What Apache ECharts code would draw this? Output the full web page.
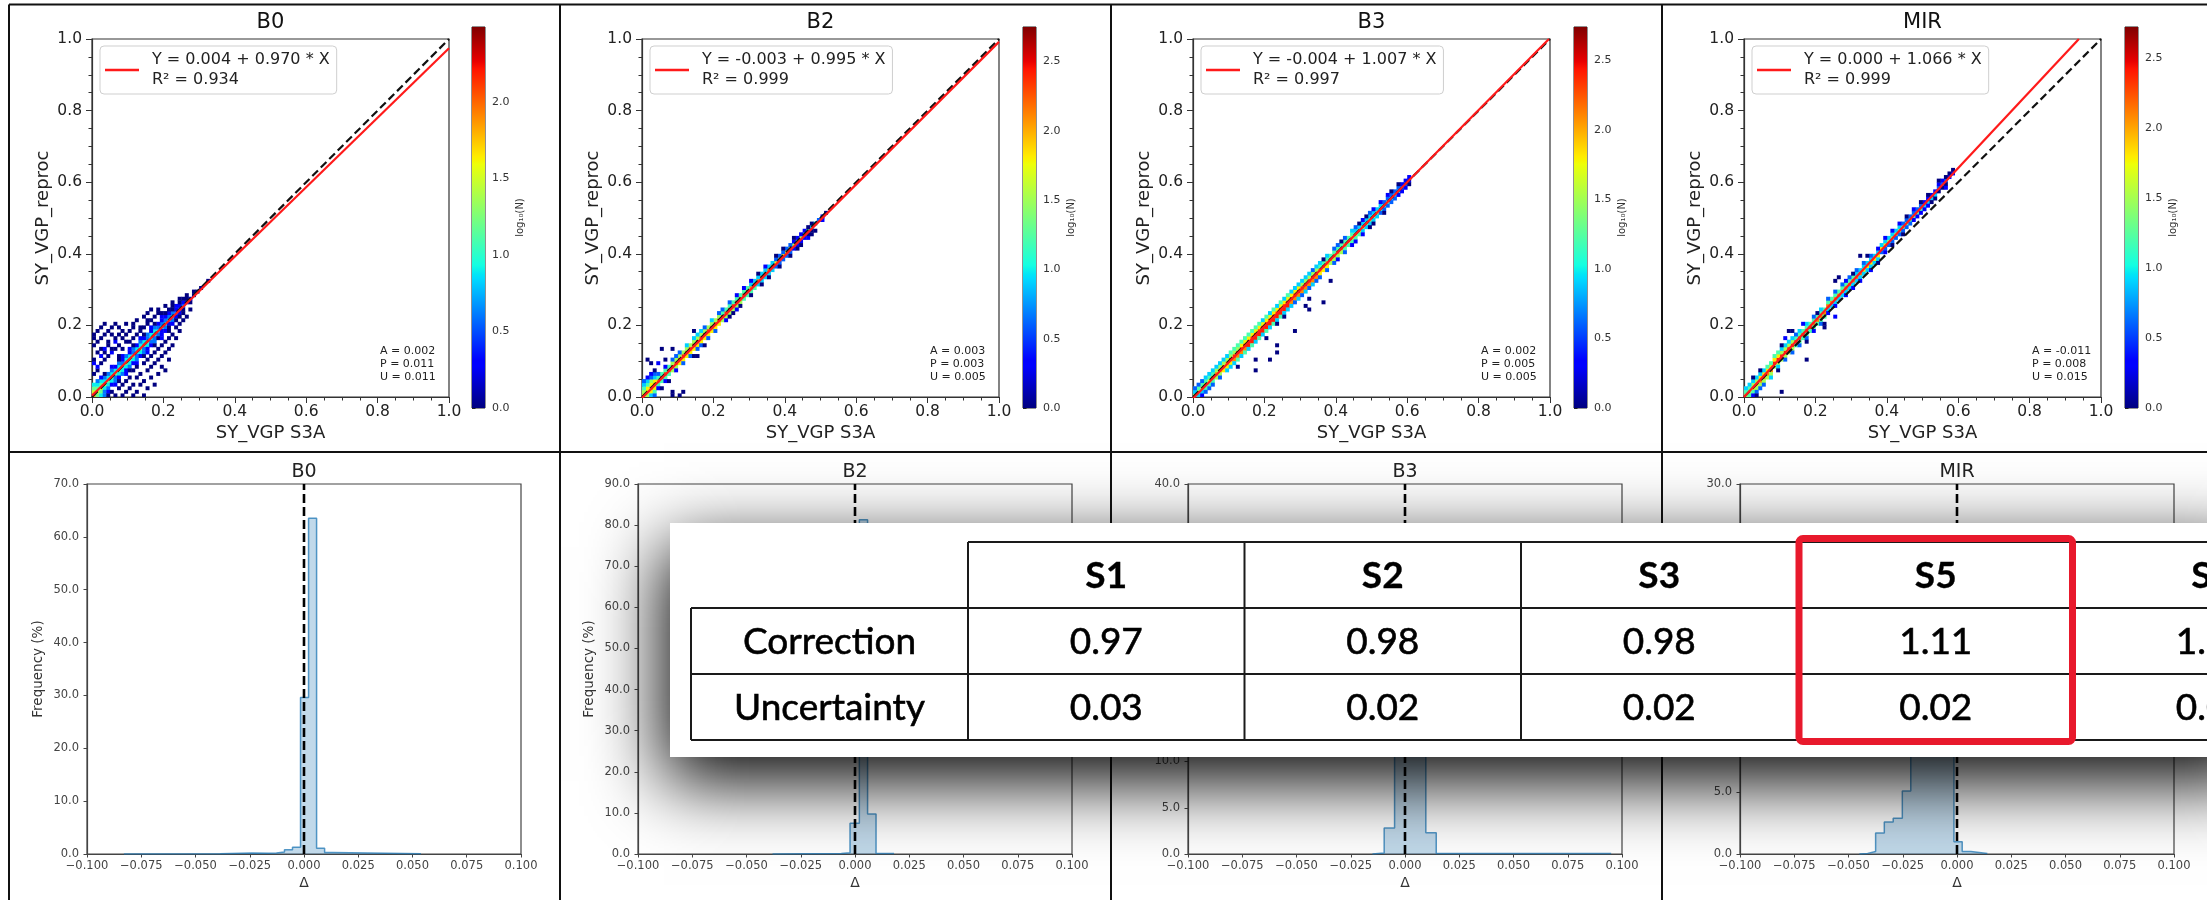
<!DOCTYPE html>
<html>
<head>
<meta charset="utf-8">
<title>SY_VGP reprocessing vs S3A</title>
<script src="https://cdn.jsdelivr.net/npm/echarts@6/dist/echarts.min.js"></script>
<style>
  html, body { margin: 0; padding: 0; background: #ffffff; }
  #chart { width: 2207px; height: 900px; }
</style>
</head>
<body>
<div id="chart"></div>
<script>
// ---------------- data ----------------
const bandNames = ['B0', 'B2', 'B3', 'MIR'];
const fitIntercept = [0.004, -0.003, -0.004, 0.000];
const fitSlope = [0.970, 0.995, 1.007, 1.066];
const fitR2 = [0.934, 0.999, 0.997, 0.999];
const statA = [0.002, 0.003, 0.002, -0.011];
const statP = [0.011, 0.003, 0.005, 0.008];
const statU = [0.011, 0.005, 0.005, 0.015];
const colorMax = [2.49, 2.75, 2.74, 2.72];
const colorTicks = [0, 0.5, 1.0, 1.5, 2.0, 2.5];

// 2-D density cells, 0.01 wide bins. Each band row: [offset from diagonal bin, level codes per x bin]
// level digit d -> log10(N) = 0.3 * d, '.' = empty bin
const b0DiagY = [0,1,2,3,4,5,6,7,8,9,10,11,12,13,14,15,16,17,18,19,20,21,22,23,24,25,26,27,28,29,30,31,32];
const b0Band = [
  [0,  '65554' + '44434' + '44344' + '43433' + '33322' + '21100' + '0.0'],
  [1,  '54433' + '33323' + '32333' + '23322' + '22211' + '10.0.'],
  [-1, '.4433' + '32333' + '33232' + '32221' + '21211' + '0.0'],
  [2,  '43322' + '21212' + '12121' + '21211' + '11010' + '0..'],
  [-2, '..322' + '12121' + '21212' + '11201' + '10100' + '0'],
  [3,  '3210.' + '1.01.' + '10.10' + '.10.1' + '0.0.0'],
  [-3, '...21' + '.10.1' + '0.1.0' + '1.0.1' + '.0.']
];
const b0Extra = [
  [0,6,0],[0,9,1],[0,10,0],[0,14,0],[0,16,0],[0,17,0],
  [1,7,0],[1,8,1],[1,12,0],[1,15,0],[1,18,0],
  [2,9,0],[2,11,1],[2,13,0],[2,16,0],[2,19,0],
  [3,10,0],[3,12,0],[3,13,1],[3,17,0],[3,20,0],
  [4,0,0],[4,11,0],[4,14,0],[4,15,0],[4,18,0],
  [5,1,0],[5,12,1],[5,13,0],[5,17,0],[5,19,0],
  [6,0,0],[6,13,0],[6,15,1],[6,16,0],[6,20,0],
  [7,2,0],[7,11,0],[7,14,0],[7,17,0],[7,19,0],
  [8,0,0],[8,3,0],[8,13,0],[8,16,0],[8,18,0],
  [9,1,0],[9,4,0],[9,15,0],[9,17,0],[9,20,0],
  [10,2,0],[10,5,0],[10,15,0],[10,18,0],
  [11,0,0],[11,3,0],[11,7,0],[11,16,0],[11,19,0],[11,20,0],
  [12,1,0],[12,5,0],[12,8,0],[12,17,0],[12,21,0],
  [13,3,0],[13,6,0],[13,18,0],[13,19,0],
  [14,0,0],[14,4,0],[14,9,0],[14,19,0],[14,22,0],
  [15,2,0],[15,7,0],[15,10,0],[15,20,0],[15,21,0],[15,23,0],
  [16,5,0],[16,8,0],[16,11,0],[16,21,0],[16,24,0],
  [17,3,0],[17,9,0],[17,12,0],[17,22,0],
  [18,6,0],[18,10,0],[18,13,0],[18,23,0],[18,24,0],
  [19,8,0],[19,11,0],[19,14,0],[19,23,0],
  [20,7,0],[20,12,0],[20,15,0],[20,25,0],
  [21,10,0],[21,13,0],[21,16,0],[21,24,0],
  [22,14,0],[22,17,0],[22,26,0],
  [23,16,0],[23,19,0],[23,25,0],
  [24,18,0],[24,20,0],[24,27,0],
  [25,21,0],[25,23,0],[26,22,0],[26,28,0],[27,24,0]
];

const b2DiagY = [0,1,2,3,4,5,6,7,8,9,10,11,12,13,14,15,16,17,18,19,20,21,22,23,24,25,26,27,28,29,30,
  31,32,33,34,35,36,37,38,39,40,41,42,43,44,45,46,47,48,49,50];
const b2Band = [
  [0,  '6677' + '788888' + '88888888888888888888' + '7777777' + '66666' + '555' + '44' + '33' + '21'],
  [1,  '5666' + '444455' + '55555555555544444444' + '3333333' + '22222' + '111' + '10' + '0.'],
  [-1, '.566' + '444455' + '66666666666655555544' + '4433333' + '22222' + '111' + '10' + '0.'],
  [2,  '4453' + '2.1.22' + '2.3.3332.3.22.2.1.1.' + '1.0.1..' + '0.0..' + '0..'],
  [-2, '..34' + '1.1..1' + '.2.2.22.2.2..1..1...' + '0..0...' + '.0..0'],
  [3,  '3322'],
  [-3, '...2']
];
const b2Extra = [
  [1,10,0],[2,9,0],[4,9,1],[5,13,0],[3,7,0],[6,10,0],[7,8,0],[8,13,0],[9,11,0],[10,12,1],
  [11,11,0],[12,13,0],[14,18,0],[14,11,0],[15,11,0],[17,14,0],[6,5,0],[7,4,0],[5,2,0],[8,1,0],
  [11,1,0],[10,0,0],[8,0,0],[2,6,1],[0,4,2],[1,5,1],
  [24,22,0],[25,23,0],[31,30,0],[35,33,0],[38,36,0],[41,39,0],[43,41,0],[44,42,0],[46,44,1],
  [47,45,0],[48,46,0],[42,43,0],[43,44,0],[45,46,0],[46,46,0],[36,37,1],[28,27,0],[30,31,1],
  [16,14,0],[27,25,0],[49,49,0],[50,50,0],[50,49,1],[51,51,0]
];

const b3DiagY = [0,1,2,3,4,5,6,7,8,9,10,11,12,13,14,15,16,17,18,19,20,21,22,23,24,25,26,27,28,29,30,
  31,32,33,34,35,36,37,38,39,40,41,42,43,44,45,46,47,48,49,50,51,52,53,54,55,56,57,58,59,60];
const b3Band = [
  [0,  '55666' + '77777' + '88888' + '88888888888888888888' + '77777' + '77766' + '66655' + '55444' + '33322' + '1'],
  [1,  '34444' + '45555' + '55566' + '66666666666666655555' + '44444' + '44444' + '33333' + '33322' + '22211' + '1'],
  [-1, '33344' + '45566' + '67777' + '88888888888877777777' + '66655' + '55444' + '44333' + '33222' + '22111' + '0'],
  [2,  '22233' + '33333' + '44444' + '44443434343433333323' + '3.3.2' + '2.2.3' + '2.1.2' + '1.1.1' + '0.0'],
  [-2, '..122' + '2.2.3' + '33434' + '34343434343332323232' + '2.2.2' + '1.2.1' + '1.1.0' + '0..0.']
];
const b3Extra = [
  [12,8,0],[17,10,0],[17,7,0],[20,16,0],[21,10,0],[23,14,0],[23,12,0],[23,20,0],[25,22,0],
  [28,18,0],[31,25,0],[32,24,0],[32,27,0],[36,26,0],[38,32,0],[35,33,1],[40,38,0],[44,46,0],
  [45,44,1],[47,45,0],[48,47,0],[46,47,0],[52,53,1],[54,56,0],[55,54,0],[56,55,1],[53,52,0],
  [42,40,0],[44,43,0],[50,51,1],[57,58,1],[60,61,2],[59,60,2],[58,58,2],[10,11,0],[5,7,0],
  [2,3,1],[46,48,0],[48,50,0],[33,35,0],[35,37,0],[36,38,0],[34,36,0],[39,41,1],[41,43,0]
];

const mirDiagY = [0,1,2,3,4,5,6,7,9,10,11,12,13,14,15,16,17,18,19,20,21,22,23,25,26,27,28,29,30,31,
  32,33,34,35,36,37,38,39,41,42,43,44,45,46,47,48,49,50,51,52,53,54,55,56,58,59,60,61,62];
const mirBand = [
  [0,  '55667' + '77788' + '88888' + '88887777777777777766' + '66666' + '55555' + '44444' + '33332' + '2211'],
  [1,  '44556' + '66666' + '55554' + '44444444444444443333' + '33333' + '33332' + '22222' + '11111' + '1000'],
  [-1, '34455' + '55555' + '55554' + '44444444333333333333' + '33322' + '22222' + '22111' + '11000' + '00.'],
  [2,  '33333' + '34444' + '33332' + '3.3.2.3.2.2.2.2.2.2.' + '2.1.1' + '.1.1.' + '0.1.0' + '.0..0'],
  [-2, '..122' + '2.3.3' + '.2.2.' + '2.2.1.2.1.1..1.1.1..' + '1.0.1' + '.0..0']
];
const mirExtra = [
  [10,1,0],[17,10,0],[17,15,0],[25,22,1],[22,19,0],[22,20,0],[12,18,0],[13,18,0],[10,14,0],
  [11,16,1],[23,25,0],[25,32,0],[26,33,0],[30,34,0],[32,39,0],[34,39,0],[1,3,1],[2,5,0],
  [2,1,0],[4,7,0],[3,0,0],[9,7,0],[16,20,1],[20,23,0],[21,24,0],[27,30,0],[28,32,1],[29,33,0],
  [30,33,0],[35,38,0],[37,40,0],[38,40,0],[44,46,0],[48,51,0],[50,54,0],[52,54,0],[54,59,1],
  [55,59,0],[56,58,1],[57,61,2],[58,62,2],[53,57,1],[51,55,0],[49,51,1]
];

// histograms of the difference (bin edges and frequency in %)
const b0Edges = [-0.083, -0.0386, -0.0238, -0.0164, -0.0127, -0.009, -0.0053, -0.0016, 0.0021, 0.0058, 0.0095, 0.0132, 0.0539];
const b0Freq  = [0.05, 0.2, 0.15, 0.2, 0.4, 0.8, 1.3, 29.6, 63.5, 1.1, 0.3, 0.05];
const b2Edges = [-0.038, -0.0063, -0.0023, 0.0020, 0.0058, 0.0097, 0.018];
const b2Freq  = [0.1, 0.3, 7.5, 81.3, 9.7, 0.1];
const b3Edges = [-0.015, -0.0096, -0.0048, 0.0, 0.0048, 0.0096, 0.0144, 0.095];
const b3Freq  = [0.1, 2.8, 30.0, 35.0, 29.4, 2.3, 0.05];
const mirEdges = [-0.045, -0.0412, -0.0375, -0.0335, -0.0294, -0.0252, -0.0213, -0.0173, -0.0133, -0.0093, -0.0054, -0.0014, 0.0024, 0.0064, 0.014];
const mirFreq  = [0.05, 0.2, 1.7, 2.6, 2.9, 5.1, 11.0, 14.0, 18.0, 21.0, 22.3, 1.0, 0.2, 0.05];
const histMax = [70, 90, 40, 30];
const histStep = [10, 10, 5, 5];
const histTicksX = { min: -0.1, max: 0.1, step: 0.025 };

// correction table
const tableHead = ['S1', 'S2', 'S3', 'S5', 'S6'];
const tableRows = ['Correction', 'Uncertainty'];
const tableCorrection = [0.97, 0.98, 0.98, 1.11, 1.13];
const tableUncertainty = [0.03, 0.02, 0.02, 0.02, 0.02];
const tableMarked = 3;

// ---------------- layout ----------------
const W = 2207, H = 900;
const BIN = 0.01, LEVEL = 0.3;
const scatterLeft = [92, 642, 1193, 1744], scatterTop = 39, scatterW = 357, scatterH = 358;
const cbLeft = [472, 1023, 1574, 2125], cbTop = 27, cbW = 13, cbH = 381;
const histLeft = [87, 638, 1188, 1740], histTop = 484, histW = 434, histH = 370;
const FONT = 'DejaVu Sans';

// jet colormap
const JET = [
  [0, [0, 0, 128]], [0.11, [0, 0, 255]], [0.125, [0, 0, 255]], [0.34, [0, 219, 255]],
  [0.35, [0, 229, 247]], [0.375, [20, 255, 226]], [0.64, [238, 255, 8]], [0.65, [247, 245, 0]],
  [0.66, [255, 236, 0]], [0.89, [255, 19, 0]], [0.91, [232, 0, 0]], [1, [128, 0, 0]]
];
function jet(t) {
  t = Math.max(0, Math.min(1, t));
  for (let i = 1; i < JET.length; i++) {
    if (t <= JET[i][0]) {
      const [t0, c0] = JET[i - 1], [t1, c1] = JET[i];
      const f = t1 === t0 ? 0 : (t - t0) / (t1 - t0);
      const c = c0.map((v, k) => Math.round(v + (c1[k] - v) * f));
      return 'rgb(' + c.join(',') + ')';
    }
  }
  return 'rgb(128,0,0)';
}
const jetStops = JET.map(([o, c]) => ({ offset: o, color: 'rgb(' + c.join(',') + ')' }));

function buildCells(diagY, band, extra) {
  const seen = new Set(), out = [];
  const add = (x, y, lv) => {
    if (y < 0 || x < 0) return;
    const k = x + ',' + y;
    if (seen.has(k)) return;
    seen.add(k);
    out.push([x * BIN, y * BIN, lv * LEVEL]);
  };
  band.forEach(([off, codes]) => {
    for (let i = 0; i < codes.length && i < diagY.length; i++) {
      const c = codes[i];
      if (c < '0' || c > '9') continue;
      add(i, diagY[i] + off, +c);
    }
  });
  extra.forEach(([x, y, lv]) => add(x, y, lv));
  return out;
}
const cellSets = [
  buildCells(b0DiagY, b0Band, b0Extra),
  buildCells(b2DiagY, b2Band, b2Extra),
  buildCells(b3DiagY, b3Band, b3Extra),
  buildCells(mirDiagY, mirBand, mirExtra)
];
const histSets = [[b0Edges, b0Freq], [b2Edges, b2Freq], [b3Edges, b3Freq], [mirEdges, mirFreq]];

function stepData(edges, freq) {
  const d = [[edges[0], 0]];
  for (let i = 0; i < freq.length; i++) d.push([edges[i], freq[i]]);
  d.push([edges[edges.length - 1], 0]);
  return d;
}
const eqName = i => 'Y = ' + fitIntercept[i].toFixed(3) + ' + ' + fitSlope[i].toFixed(3) + ' * X';
const minus = s => s.replace('-', '\u2212');

// ---------------- components ----------------
const grid = [], xAxis = [], yAxis = [], series = [], title = [], legend = [];
const axisCol = '#333';

bandNames.forEach((name, i) => {
  // scatter density panel
  grid.push({ left: scatterLeft[i], top: scatterTop, width: scatterW, height: scatterH,
    show: true, borderColor: axisCol, borderWidth: 1.2, backgroundColor: 'transparent' });
  xAxis.push({ gridIndex: i, type: 'value', min: 0, max: 1, interval: 0.2,
    name: 'SY_VGP S3A', nameLocation: 'middle', nameGap: 27,
    nameTextStyle: { fontSize: 18, color: '#222', fontFamily: FONT },
    axisLine: { show: true, onZero: false, lineStyle: { color: axisCol, width: 1.2 } },
    axisTick: { show: true, length: 6, lineStyle: { color: axisCol } },
    minorTick: { show: true, splitNumber: 4, length: 3.5, lineStyle: { color: axisCol } },
    axisLabel: { fontSize: 15.5, color: '#222', margin: 7, fontFamily: FONT, formatter: v => v.toFixed(1) },
    splitLine: { show: false }, minorSplitLine: { show: false } });
  yAxis.push({ gridIndex: i, type: 'value', min: 0, max: 1, interval: 0.2,
    name: 'SY_VGP_reproc', nameLocation: 'middle', nameGap: 40,
    nameTextStyle: { fontSize: 18, color: '#222', fontFamily: FONT },
    axisLine: { show: true, onZero: false, lineStyle: { color: axisCol, width: 1.2 } },
    axisTick: { show: true, length: 6, lineStyle: { color: axisCol } },
    minorTick: { show: true, splitNumber: 4, length: 3.5, lineStyle: { color: axisCol } },
    axisLabel: { fontSize: 15.5, color: '#222', margin: 10, fontFamily: FONT, formatter: v => v.toFixed(1) },
    splitLine: { show: false } });
});

bandNames.forEach((name, i) => {
  // difference histogram panel
  grid.push({ left: histLeft[i], top: histTop, width: histW, height: histH,
    show: true, borderColor: '#444', borderWidth: 1.2, backgroundColor: 'transparent' });
  xAxis.push({ gridIndex: 4 + i, type: 'value', min: histTicksX.min, max: histTicksX.max, interval: histTicksX.step,
    name: '\u0394', nameLocation: 'middle', nameGap: 22,
    nameTextStyle: { fontSize: 14, color: '#333', fontFamily: FONT },
    axisLine: { show: true, onZero: false, lineStyle: { color: '#444', width: 1.2 } },
    axisTick: { show: true, length: 3.5, lineStyle: { color: '#444' } },
    axisLabel: { fontSize: 11.5, color: '#444', margin: 6, fontFamily: FONT,
      formatter: v => Math.abs(v) < 1e-9 ? '0.000' : minus(v.toFixed(3)) },
    splitLine: { show: false } });
  yAxis.push({ gridIndex: 4 + i, type: 'value', min: 0, max: histMax[i], interval: histStep[i],
    name: 'Frequency (%)', nameLocation: 'middle', nameGap: 42,
    nameTextStyle: { fontSize: 13.5, color: '#333', fontFamily: FONT },
    axisLine: { show: true, onZero: false, lineStyle: { color: '#444', width: 1.2 } },
    axisTick: { show: true, length: 3.5, lineStyle: { color: '#444' } },
    axisLabel: { fontSize: 11.5, color: '#444', margin: 8, fontFamily: FONT, formatter: v => v.toFixed(1) },
    splitLine: { show: false } });
});

bandNames.forEach((name, i) => {
  // colour bar
  const ticks = colorTicks.filter(t => t <= colorMax[i]);
  grid.push({ left: cbLeft[i], top: cbTop, width: cbW, height: cbH,
    show: true, borderColor: '#222', borderWidth: 1, backgroundColor: 'transparent' });
  xAxis.push({ gridIndex: 8 + i, type: 'value', min: 0, max: 1, show: false });
  yAxis.push({ gridIndex: 8 + i, type: 'value', min: 0, max: colorMax[i], position: 'right',
    name: 'log\u2081\u2080(N)', nameLocation: 'middle', nameGap: 30, nameRotate: 90,
    nameTextStyle: { fontSize: 10, color: '#333', fontFamily: FONT },
    axisLine: { show: false },
    axisTick: { show: true, length: 3.5, customValues: ticks, lineStyle: { color: '#222' } },
    axisLabel: { fontSize: 11, color: '#333', margin: 7, fontFamily: FONT, customValues: ticks,
      formatter: v => v.toFixed(1) },
    splitLine: { show: false } });
});

bandNames.forEach((name, i) => {
  const maxC = colorMax[i];
  series.push({
    type: 'custom', name: name + ' density', xAxisIndex: i, yAxisIndex: i, clip: true, silent: true, z: 2,
    data: cellSets[i],
    renderItem: (params, api) => {
      const x = api.value(0), y = api.value(1);
      const a = api.coord([x, y]), b = api.coord([x + BIN, y + BIN]);
      return { type: 'rect',
        shape: { x: a[0], y: b[1], width: b[0] - a[0] + 0.4, height: a[1] - b[1] + 0.4 },
        style: { fill: jet(api.value(2) / maxC) } };
    }
  });
  series.push({
    type: 'line', name: name + ' 1:1', xAxisIndex: i, yAxisIndex: i, silent: true, z: 3,
    showSymbol: false, data: [[0, 0], [1, 1]],
    lineStyle: { color: '#111', width: 2.2, type: [8, 4] }
  });
  const a = fitIntercept[i], s = fitSlope[i];
  const xEnd = Math.min(1, (1 - a) / s);
  series.push({
    type: 'line', name: eqName(i), xAxisIndex: i, yAxisIndex: i, silent: true, z: 4,
    showSymbol: false, color: '#ff1a1a', clip: true,
    data: [[0, a], [xEnd, a + s * xEnd]],
    lineStyle: { color: '#ff1a1a', width: 2.2 }
  });
  // histogram
  const [edges, freq] = histSets[i];
  series.push({
    type: 'line', name: name + ' histogram', xAxisIndex: 4 + i, yAxisIndex: 4 + i, silent: true, z: 2,
    step: 'end', showSymbol: false, data: stepData(edges, freq),
    lineStyle: { color: 'rgba(31,119,180,0.75)', width: 1.5 },
    areaStyle: { color: 'rgba(31,119,180,0.4)', origin: 'start' }
  });
  series.push({
    type: 'line', name: name + ' zero', xAxisIndex: 4 + i, yAxisIndex: 4 + i, silent: true, z: 3,
    showSymbol: false, data: [[0, 0], [0, histMax[i]]],
    lineStyle: { color: '#000', width: 2.6, type: [9, 4] }
  });
  // colour bar gradient
  series.push({
    type: 'custom', name: name + ' colour bar', xAxisIndex: 8 + i, yAxisIndex: 8 + i, silent: true,
    data: [[0, 0]],
    renderItem: (params, api) => {
      const p0 = api.coord([0, 0]), p1 = api.coord([1, maxC]);
      return { type: 'rect', shape: { x: p0[0], y: p1[1], width: p1[0] - p0[0], height: p0[1] - p1[1] },
        style: { fill: new echarts.graphic.LinearGradient(0, 1, 0, 0, jetStops) } };
    }
  });

  // titles, fit legend and statistics
  title.push({ text: name, left: scatterLeft[i] + scatterW / 2, top: 23, padding: 0,
    textAlign: 'center', textVerticalAlign: 'middle',
    textStyle: { fontSize: 21, fontWeight: 'normal', color: '#111', fontFamily: FONT } });
  title.push({ text: name, left: histLeft[i] + histW / 2, top: 472, padding: 0,
    textAlign: 'center', textVerticalAlign: 'middle',
    textStyle: { fontSize: 19, fontWeight: 'normal', color: '#222', fontFamily: FONT } });
  title.push({ text: 'A = ' + statA[i].toFixed(3) + '\nP = ' + statP[i].toFixed(3) + '\nU = ' + statU[i].toFixed(3),
    left: scatterLeft[i] + 288, top: 345, padding: 0, textAlign: 'left', textVerticalAlign: 'top',
    textStyle: { fontSize: 11, lineHeight: 13, fontWeight: 'normal', color: '#222', fontFamily: FONT } });
  legend.push({
    data: [eqName(i)], left: scatterLeft[i] + 8, top: 46, selectedMode: false,
    icon: 'rect', itemWidth: 34, itemHeight: 2.5,
    formatter: n => n + '\nR\u00b2 = ' + fitR2[i].toFixed(3),
    textStyle: { fontSize: 16, lineHeight: 20, color: '#222', fontFamily: FONT, padding: [0, 0, 0, 8] },
    backgroundColor: 'rgba(255,255,255,0.8)', borderColor: '#cfcfcf', borderWidth: 1, borderRadius: 4,
    padding: [4, 7, 4, 5]
  });
});

// ---------------- frame and table ----------------
const frame = [
  [9, 4.5, W, 4.5], [9, 4.5, 9, H], [560, 4.5, 560, H], [1111, 4.5, 1111, H], [1662, 4.5, 1662, H], [9, 452, W, 452]
].map(([x1, y1, x2, y2]) => ({ type: 'line', silent: true, z: 50,
  shape: { x1, y1, x2, y2 }, style: { stroke: '#111', lineWidth: 2 } }));

const T = { boxLeft: 670, boxTop: 523, boxBottom: 757, left: 691, labelRight: 968, colW: 276.5,
  headTop: 542, rowH: 66 };
const tableEls = [];
tableEls.push({ type: 'rect', silent: true, z: 100,
  shape: { x: T.boxLeft, y: T.boxTop, width: W - T.boxLeft + 60, height: T.boxBottom - T.boxTop },
  style: { fill: '#ffffff', shadowBlur: 70, shadowColor: 'rgba(0,0,0,1)', shadowOffsetX: -6, shadowOffsetY: 24 } });
const rowY = k => T.headTop + T.rowH * k;
const colX = k => T.labelRight + T.colW * k;
const tLine = (x1, y1, x2, y2) => tableEls.push({ type: 'line', silent: true, z: 101,
  shape: { x1, y1, x2, y2 }, style: { stroke: '#1a1a1a', lineWidth: 2 } });
const nCols = tableHead.length;
tLine(T.labelRight, rowY(0), colX(nCols), rowY(0));
for (let r = 1; r <= 3; r++) tLine(T.left, rowY(r), colX(nCols), rowY(r));
tLine(T.left, rowY(1), T.left, rowY(3));
for (let c = 0; c <= nCols; c++) tLine(colX(c), rowY(0), colX(c), rowY(3));
const tText = (text, x, y, bold) => tableEls.push({ type: 'text', silent: true, z: 102,
  style: { text, x, y, align: 'center', verticalAlign: 'middle', fill: '#000',
    stroke: '#000', lineWidth: bold ? 0.3 : 0.6,
    fontSize: 37, fontFamily: 'Lato', fontWeight: bold ? 'bold' : 'normal' } });
tableHead.forEach((h, c) => tText(h, colX(c) + T.colW / 2, rowY(0) + T.rowH / 2 + 1, true));
tableRows.forEach((r, k) => tText(r, (T.left + T.labelRight) / 2, rowY(k + 1) + T.rowH / 2 + 1, false));
tableCorrection.forEach((v, c) => tText(v.toFixed(2), colX(c) + T.colW / 2, rowY(1) + T.rowH / 2 + 1, false));
tableUncertainty.forEach((v, c) => tText(v.toFixed(2), colX(c) + T.colW / 2, rowY(2) + T.rowH / 2 + 1, false));
tableEls.push({ type: 'rect', silent: true, z: 103,
  shape: { x: colX(tableMarked) + 1.5, y: rowY(0) - 3.5, width: T.colW - 3, height: T.rowH * 3 + 5, r: 4 },
  style: { fill: 'none', stroke: '#e8192c', lineWidth: 7 } });

const chart = echarts.init(document.getElementById('chart'), null, { renderer: 'canvas', width: W, height: H });
chart.setOption({
  animation: false,
  backgroundColor: '#ffffff',
  textStyle: { fontFamily: FONT },
  title, legend, grid, xAxis, yAxis, series,
  graphic: { elements: frame.concat(tableEls) }
});
</script>
</body>
</html>
